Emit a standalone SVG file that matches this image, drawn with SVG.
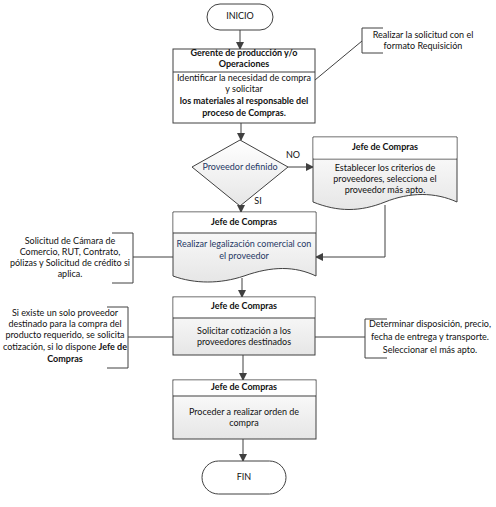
<svg xmlns="http://www.w3.org/2000/svg" width="496" height="507" viewBox="0 0 496 507">
<defs>
<linearGradient id="g" x1="0" y1="0" x2="0" y2="1"><stop offset="0" stop-color="#ffffff"/><stop offset="1" stop-color="#e6e6e6"/></linearGradient>
<marker id="ah" markerWidth="8" markerHeight="8" refX="7" refY="4" orient="auto" markerUnits="userSpaceOnUse"><path d="M0,0 L8,4 L0,8 Z" fill="#404040"/></marker>
<style>
.s{stroke:#404040;stroke-width:1;fill:#fff}
.b{stroke:#404040;stroke-width:1;fill:url(#g)}
.c{stroke:#404040;stroke-width:1;fill:none}
.ca{stroke:#404040;stroke-width:1;fill:none;marker-end:url(#ah)}
.t{font-family:Lato,"Liberation Sans",sans-serif;font-size:9px;fill:#111;text-anchor:middle;dominant-baseline:middle}
.h{font-weight:bold}
.blue{fill:#1f3864}
</style>
</defs>
<rect width="496" height="507" fill="#fff"/>
<g id="connectors">
<line class="ca" x1="240" y1="30" x2="240" y2="49"/>
<line class="ca" x1="241" y1="123" x2="241" y2="140"/>
<line class="ca" x1="288" y1="167" x2="313" y2="167"/>
<line class="ca" x1="241" y1="206" x2="241" y2="212"/>
<polyline class="ca" points="385,205 385,257 316,257"/>
<line class="ca" x1="242" y1="278" x2="242" y2="297"/>
<line class="ca" x1="243" y1="355" x2="243" y2="380"/>
<line class="ca" x1="243" y1="439" x2="243" y2="461"/>
<line class="c" x1="315" y1="80" x2="362" y2="41"/>
<line class="c" x1="133" y1="257" x2="173" y2="257"/>
<line class="c" x1="128" y1="337" x2="173" y2="337"/>
<line class="c" x1="315" y1="337" x2="365" y2="337"/>
<text class="t" x="293" y="156">NO</text>
<text class="t" x="258" y="202">SI</text>
</g>
<g id="inicio">
<rect class="s" x="207" y="4" width="66" height="26" rx="13"/>
<text class="t" x="240" y="17">INICIO</text>
</g>
<g id="gerente">
<rect class="s" x="173" y="49" width="142" height="74"/>
<line class="c" x1="173" y1="72" x2="315" y2="72"/>
<text class="t h" x="244" y="54">Gerente de producción y/o</text>
<text class="t h" x="244" y="65">Operaciones</text>
<text class="t" x="244" y="79">Identificar la necesidad de compra</text>
<text class="t" x="244" y="90">y solicitar</text>
<text class="t h" x="244" y="102">los materiales al responsable del</text>
<text class="t h" x="244" y="114">proceso de Compras.</text>
</g>
<g id="nota-requisicion">
<path class="c" d="M383,28 H362 V53 H383"/>
<text class="t" x="423" y="36">Realizar la solicitud con el</text>
<text class="t" x="423" y="47">formato Requisición</text>
</g>
<g id="decision">
<polygon class="b" points="240,140 288,167 240,206 192,167"/>
<text class="t blue" x="240" y="168">Proveedor definido</text>
</g>
<g id="establecer">
<path class="b" d="M313,137 H457 V202 C435,192 410,192 385,202 C360,212 338,212 313,202 Z"/>
<line class="c" x1="313" y1="159" x2="457" y2="159"/>
<rect x="313.5" y="137.5" width="143" height="21" fill="#fff"/>
<text class="t h" x="385" y="148">Jefe de Compras</text>
<text class="t" x="385" y="169">Establecer los criterios de</text>
<text class="t" x="385" y="180">proveedores, selecciona el</text>
<text class="t" x="385" y="191">proveedor más apto.</text>
</g>
<g id="legalizacion">
<path class="b" d="M173,212 H316 V276 C295,266 272,266 244,276 C220,284 195,284 173,276 Z"/>
<rect x="173.5" y="212.5" width="142" height="20" fill="#fff"/>
<line class="c" x1="173" y1="233" x2="316" y2="233"/>
<text class="t h" x="244" y="223">Jefe de Compras</text>
<text class="t blue" x="244" y="245">Realizar legalización comercial con</text>
<text class="t blue" x="244" y="257">el proveedor</text>
</g>
<g id="nota-legalizacion">
<path class="c" d="M112,233 H133 V283 H112"/>
<text class="t" x="70" y="242">Solicitud de Cámara de</text>
<text class="t" x="70" y="253">Comercio, RUT, Contrato,</text>
<text class="t" x="70" y="264">pólizas y Solicitud de crédito  si</text>
<text class="t" x="70" y="275">aplica.</text>
</g>
<g id="cotizacion">
<rect class="b" x="173" y="297" width="142" height="58"/>
<rect x="173.5" y="297.5" width="141" height="20" fill="#fff"/>
<line class="c" x1="173" y1="318" x2="315" y2="318"/>
<text class="t h" x="244" y="307">Jefe de Compras</text>
<text class="t" x="244" y="332">Solicitar cotización a los</text>
<text class="t" x="244" y="343">proveedores destinados</text>
</g>
<g id="nota-proveedor">
<path class="c" d="M107,307 H128 V368 H107"/>
<text class="t" x="65" y="314">Si existe un solo proveedor</text>
<text class="t" x="65" y="325">destinado para la compra del</text>
<text class="t" x="65" y="336">producto requerido, se solicita</text>
<text class="t" x="65" y="348">cotización, si lo dispone <tspan class="h">Jefe de</tspan></text>
<text class="t h" x="65" y="360">Compras</text>
</g>
<g id="nota-determinar">
<path class="c" d="M387,319 H365 V358 H387"/>
<text class="t" x="430" y="325">Determinar disposición, precio,</text>
<text class="t" x="430" y="338">fecha de entrega y transporte.</text>
<text class="t" x="430" y="351">Seleccionar el más apto.</text>
</g>
<g id="orden">
<rect class="b" x="173" y="380" width="143" height="59"/>
<rect x="173.5" y="380.5" width="142" height="15" fill="#fff"/>
<line class="c" x1="173" y1="396" x2="316" y2="396"/>
<text class="t h" x="244" y="388">Jefe de Compras</text>
<text class="t" x="244" y="413">Proceder a realizar orden de</text>
<text class="t" x="244" y="424">compra</text>
</g>
<g id="fin">
<rect class="s" x="202" y="461" width="84" height="33" rx="16.5"/>
<text class="t" x="244" y="478">FIN</text>
</g>
</svg>
